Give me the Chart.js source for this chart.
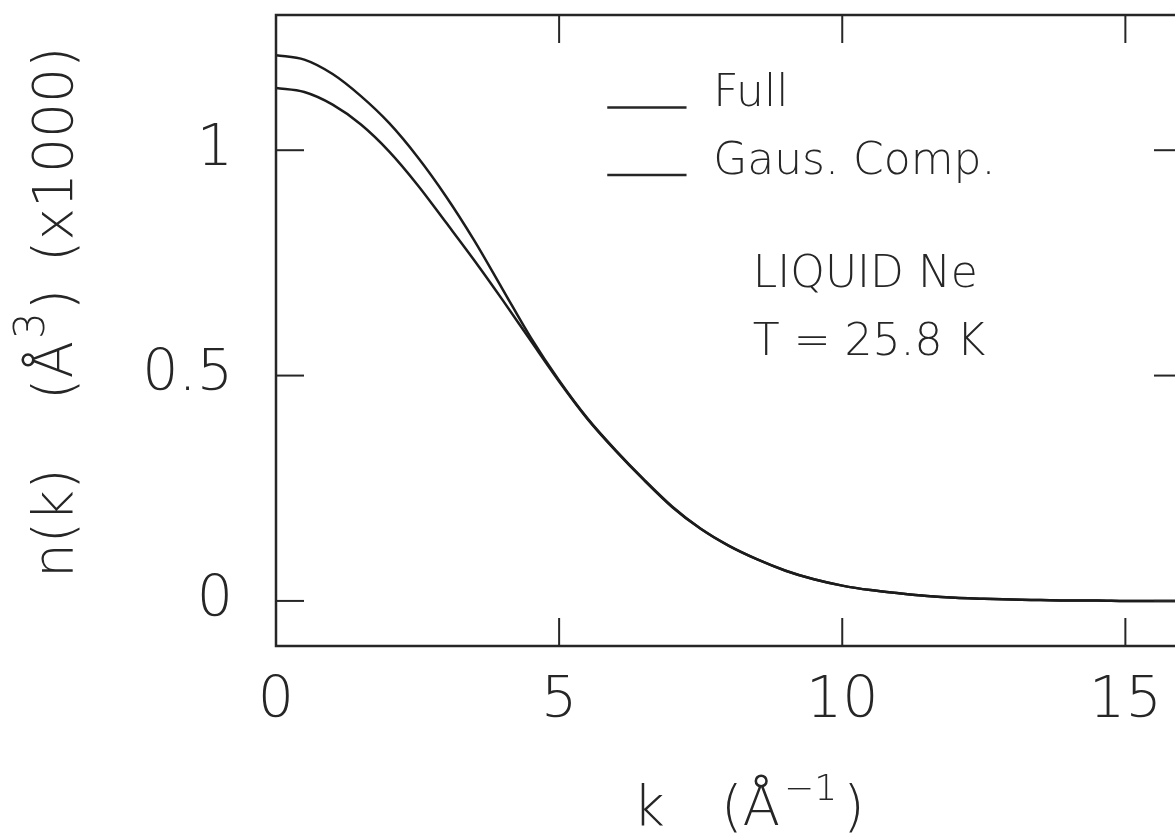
<!DOCTYPE html>
<html>
<head>
<meta charset="utf-8">
<script src="https://cdn.jsdelivr.net/npm/chart.js@4"></script>
<style>
  html, body { margin: 0; padding: 0; background: #fff; overflow: hidden; }
  body { width: 1175px; height: 836px; position: relative; }
  #wrap { position: absolute; left: 0; top: 0; width: 1200px; height: 836px; }
</style>
</head>
<body>
<div id="wrap"><canvas id="nkChart" width="1200" height="836"></canvas></div>
<script>
// momentum distribution n(k), liquid neon at 25.8 K
const kValues = [0, 0.5, 1, 1.5, 2, 2.5, 3, 3.5, 4, 4.5, 5, 5.5, 6, 6.5, 7, 7.5, 8,
  8.5, 9, 9.5, 10, 10.5, 11, 11.5, 12, 12.5, 13, 13.5, 14, 14.5, 15, 15.5, 16];
const fullValues = [1.211, 1.201, 1.169, 1.120, 1.060, 0.985, 0.898, 0.800, 0.692, 0.584,
  0.489, 0.405, 0.334, 0.269, 0.209, 0.160, 0.122, 0.092, 0.067, 0.048, 0.034, 0.024,
  0.017, 0.011, 0.007, 0.005, 0.003, 0.002, 0.001, 0.001, 0, 0, 0];
const gausValues = [1.138, 1.129, 1.101, 1.057, 0.997, 0.923, 0.840, 0.756, 0.668, 0.577,
  0.487, 0.404, 0.333, 0.268, 0.208, 0.160, 0.122, 0.092, 0.067, 0.048, 0.034, 0.024,
  0.017, 0.011, 0.007, 0.005, 0.003, 0.002, 0.001, 0.001, 0, 0, 0];
const xTicks = [0, 5, 10, 15];
const yTicks = [0, 0.5, 1];
const seriesNames = ['Full', 'Gaus. Comp.'];
const noteLines = ['LIQUID Ne', 'T = 25.8 K'];

const INK = '#262626';
const FONT = '"DejaVu Sans"';

function pts(vals) {
  return kValues.map((k, i) => ({ x: k, y: vals[i] }));
}

function seg(ctx, x1, y1, x2, y2) {
  ctx.beginPath();
  ctx.moveTo(x1, y1);
  ctx.lineTo(x2, y2);
  ctx.stroke();
}

// draws a run of text pieces left to right, pieces may be raised (superscripts)
function run(ctx, parts, x, y) {
  let cx = x;
  parts.forEach(p => {
    ctx.font = '200 ' + p.size + 'px ' + FONT;
    ctx.fillText(p.t, cx + (p.gap || 0), y - (p.raise || 0));
    cx += (p.gap || 0) + ctx.measureText(p.t).width;
  });
}

const framePlugin = {
  id: 'framePlugin',
  afterDatasetsDraw(chart) {
    const { ctx, chartArea: a, scales: { x, y } } = chart;
    ctx.save();
    ctx.strokeStyle = INK;
    ctx.lineWidth = 2.5;
    ctx.strokeRect(a.left, a.top, a.right - a.left, a.bottom - a.top);

    // inward tick marks on all four sides
    const len = 28;
    ctx.lineWidth = 2;
    xTicks.forEach(v => {
      if (v <= x.min) return;
      const px = x.getPixelForValue(v);
      seg(ctx, px, a.bottom, px, a.bottom - len);
      seg(ctx, px, a.top, px, a.top + len);
    });
    yTicks.forEach(v => {
      const py = y.getPixelForValue(v);
      seg(ctx, a.left, py, a.left + len, py);
      seg(ctx, a.right, py, a.right - len, py);
    });

    // key
    ctx.lineWidth = 2.5;
    ctx.fillStyle = INK;
    ctx.textAlign = 'left';
    ctx.textBaseline = 'alphabetic';
    ctx.font = '200 44px ' + FONT;
    const keyY = [1.095, 0.945];
    seriesNames.forEach((name, i) => {
      const py = y.getPixelForValue(keyY[i]);
      seg(ctx, x.getPixelForValue(5.85), py, x.getPixelForValue(7.25), py);
      ctx.fillText(name, x.getPixelForValue(7.72), py - 1);
    });

    // sample note
    const noteY = [0.696, 0.545];
    noteLines.forEach((t, i) => {
      ctx.fillText(t, x.getPixelForValue(8.42), y.getPixelForValue(noteY[i]));
    });
    ctx.restore();
  },
  afterDraw(chart) {
    const { ctx, chartArea: a } = chart;
    ctx.save();
    ctx.fillStyle = INK;
    ctx.textAlign = 'left';
    ctx.textBaseline = 'alphabetic';

    // x axis title: k (Å^-1)
    const bx = a.bottom + 179;
    run(ctx, [{ t: 'k', size: 55 }], a.left + 357, bx);
    run(ctx, [
      { t: '(Å', size: 55 },
      { t: '−1', size: 36, raise: 25, gap: 4 },
      { t: ')', size: 55, gap: 6 }
    ], a.left + 445, bx);

    // y axis title, rotated: n(k) (Å^3) (x1000)
    ctx.translate(a.left - 204, a.top + 563);
    ctx.rotate(-Math.PI / 2);
    run(ctx, [{ t: 'n(k)', size: 55 }], 0, 0);
    run(ctx, [
      { t: '(Å', size: 55 },
      { t: '3', size: 42, raise: 28, gap: 2 },
      { t: ')', size: 55, gap: 2 }
    ], 178, 0);
    run(ctx, [{ t: '(x1000)', size: 55 }], 316, 0);
    ctx.restore();
  }
};

const tickFont = { family: 'DejaVu Sans', size: 57, weight: '200' };

new Chart(document.getElementById('nkChart'), {
  type: 'line',
  data: {
    datasets: [
      {
        label: seriesNames[0],
        data: pts(fullValues),
        borderColor: '#1c1c1c',
        borderWidth: 2.5,
        pointRadius: 0,
        cubicInterpolationMode: 'monotone'
      },
      {
        label: seriesNames[1],
        data: pts(gausValues),
        borderColor: '#1c1c1c',
        borderWidth: 2.5,
        pointRadius: 0,
        cubicInterpolationMode: 'monotone'
      }
    ]
  },
  options: {
    responsive: false,
    animation: false,
    layout: { padding: { top: 15, right: 18, left: 0, bottom: 0 } },
    plugins: { legend: { display: false }, tooltip: { enabled: false } },
    scales: {
      x: {
        type: 'linear',
        min: 0,
        max: 16,
        afterBuildTicks: s => { s.ticks = xTicks.map(v => ({ value: v })); },
        afterFit: s => { s.height = 190; s.paddingLeft = 0; s.paddingRight = 0; },
        grid: { display: false, drawTicks: false },
        border: { display: false },
        ticks: { font: tickFont, color: INK, padding: 22, maxRotation: 0 }
      },
      y: {
        min: -0.1,
        max: 1.3,
        afterBuildTicks: s => { s.ticks = yTicks.map(v => ({ value: v })); },
        afterFit: s => { s.width = 276; s.paddingTop = 0; s.paddingBottom = 0; },
        grid: { display: false, drawTicks: false },
        border: { display: false },
        ticks: { font: tickFont, color: INK, padding: 43, callback: v => String(v) }
      }
    }
  },
  plugins: [framePlugin]
});
</script>
</body>
</html>
